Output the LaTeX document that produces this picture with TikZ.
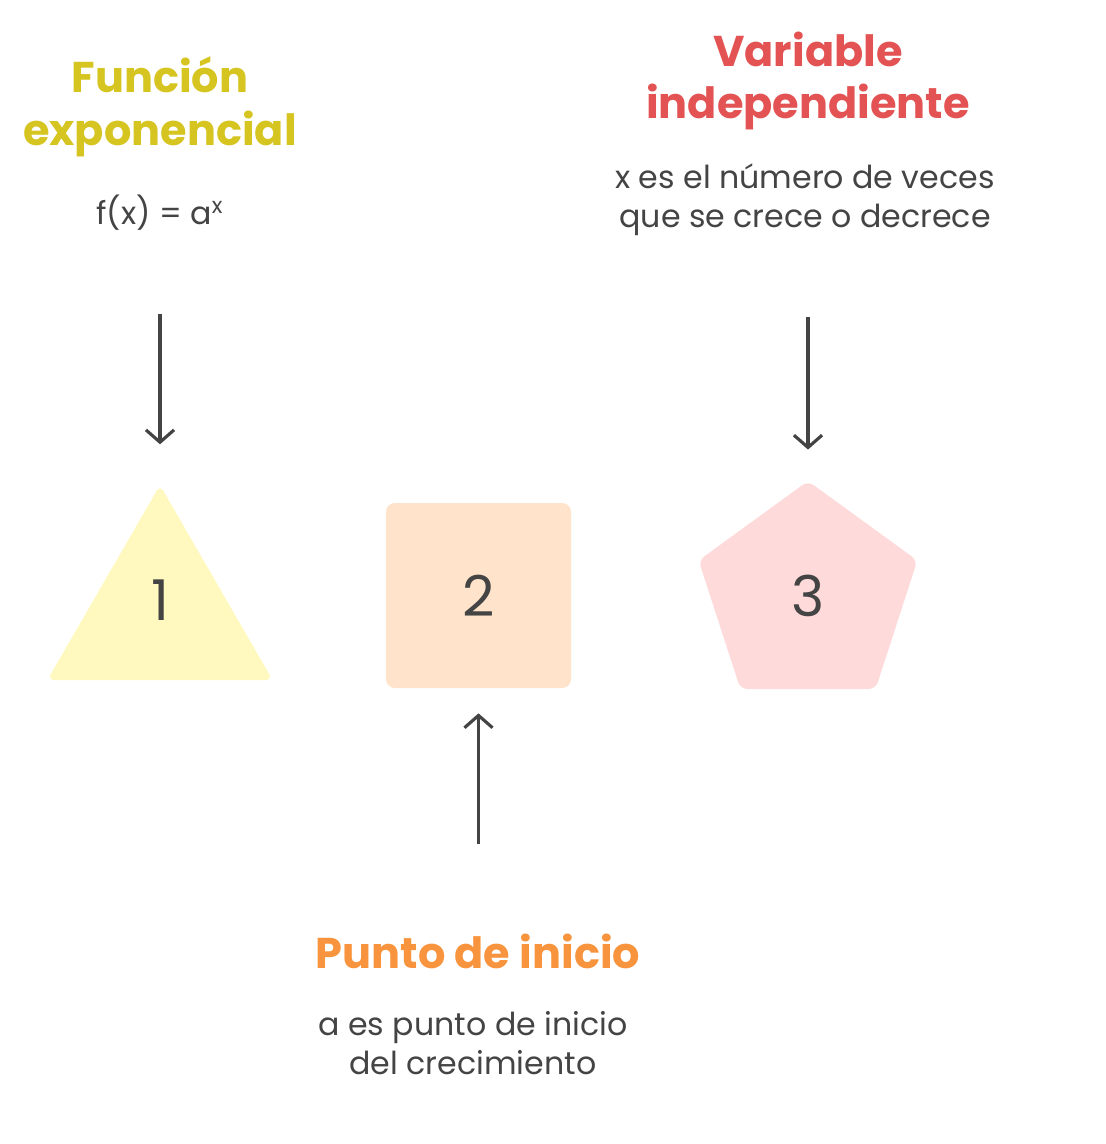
\documentclass[tikz,border=0pt]{standalone}
\usepackage{fontspec}
\setmainfont{Poppins}
\usetikzlibrary{arrows.meta,positioning,shapes.geometric}

\definecolor{titleyellow}{HTML}{D6C420}
\definecolor{titlered}{HTML}{E35353}
\definecolor{titleorange}{HTML}{F7943D}
\definecolor{textgray}{HTML}{444444}
\definecolor{fillyellow}{HTML}{FFF9BF}
\definecolor{fillorange}{HTML}{FFE3CB}
\definecolor{fillpink}{HTML}{FFDADA}

\tikzset{
  title/.style={font=\bfseries\fontsize{24.5}{30}\selectfont, align=center},
  desc/.style={font=\fontsize{18}{22}\selectfont, text=textgray, align=center},
  num/.style={font=\fontsize{32}{36}\selectfont, text=textgray},
  arr/.style={draw=textgray, line width=1.8pt, -{Straight Barb[length=7pt,width=16pt]}},
}

\begin{document}
\begin{tikzpicture}

\useasboundingbox (0,0) rectangle (22.12,-22.88);

%shapes
\node[regular polygon, regular polygon sides=3, minimum size=5.2cm, fill=fillyellow, rounded corners=4pt, inner sep=0pt] (tri) at (3.2,-12.3) {};
\node[num] (n1) at ([yshift=0.3cm]tri.center) {1};

\node[rectangle, minimum size=3.7cm, fill=fillorange, rounded corners=5pt] (sq) at (9.57,-11.91) {};
\node[num] (n2) at (sq.center) {2};

\node[regular polygon, regular polygon sides=5, minimum size=4.6cm, fill=fillpink, rounded corners=4pt, inner sep=0pt] (pent) at (16.16,-11.92) {};
\node[num] (n3) at (pent.center) {3};

%labels
\node[title, text=titleyellow] (t1) at (3.2,-2.13) {Función\\exponencial};
\node[desc] (fx) at (3.2,-4.26) {f(x) = a\textsuperscript{x}};

\node[title, text=titlered] (t3) at (16.16,-1.62) {Variable\\independiente};
\node[desc] (d3) at (16.1,-4.0) {x es el número de veces\\que se crece o decrece};

\node[title, text=titleorange] (t2) at (9.56,-19.02) {Punto de inicio};
\node[desc] (d2) at (9.46,-20.86) {a es punto de inicio\\del crecimiento};

%arrows
\draw[arr, shorten <=1.55cm, shorten >=0.8cm] (fx.south) -- (tri.corner 1);
\draw[arr, shorten <=1.5cm, shorten >=0.62cm] (d3.south -| pent.corner 1) -- (pent.corner 1);
\draw[arr, shorten <=1.66cm, shorten >=0.5cm] (t2.north -| sq.south) -- (sq.south);

\end{tikzpicture}
\end{document}
